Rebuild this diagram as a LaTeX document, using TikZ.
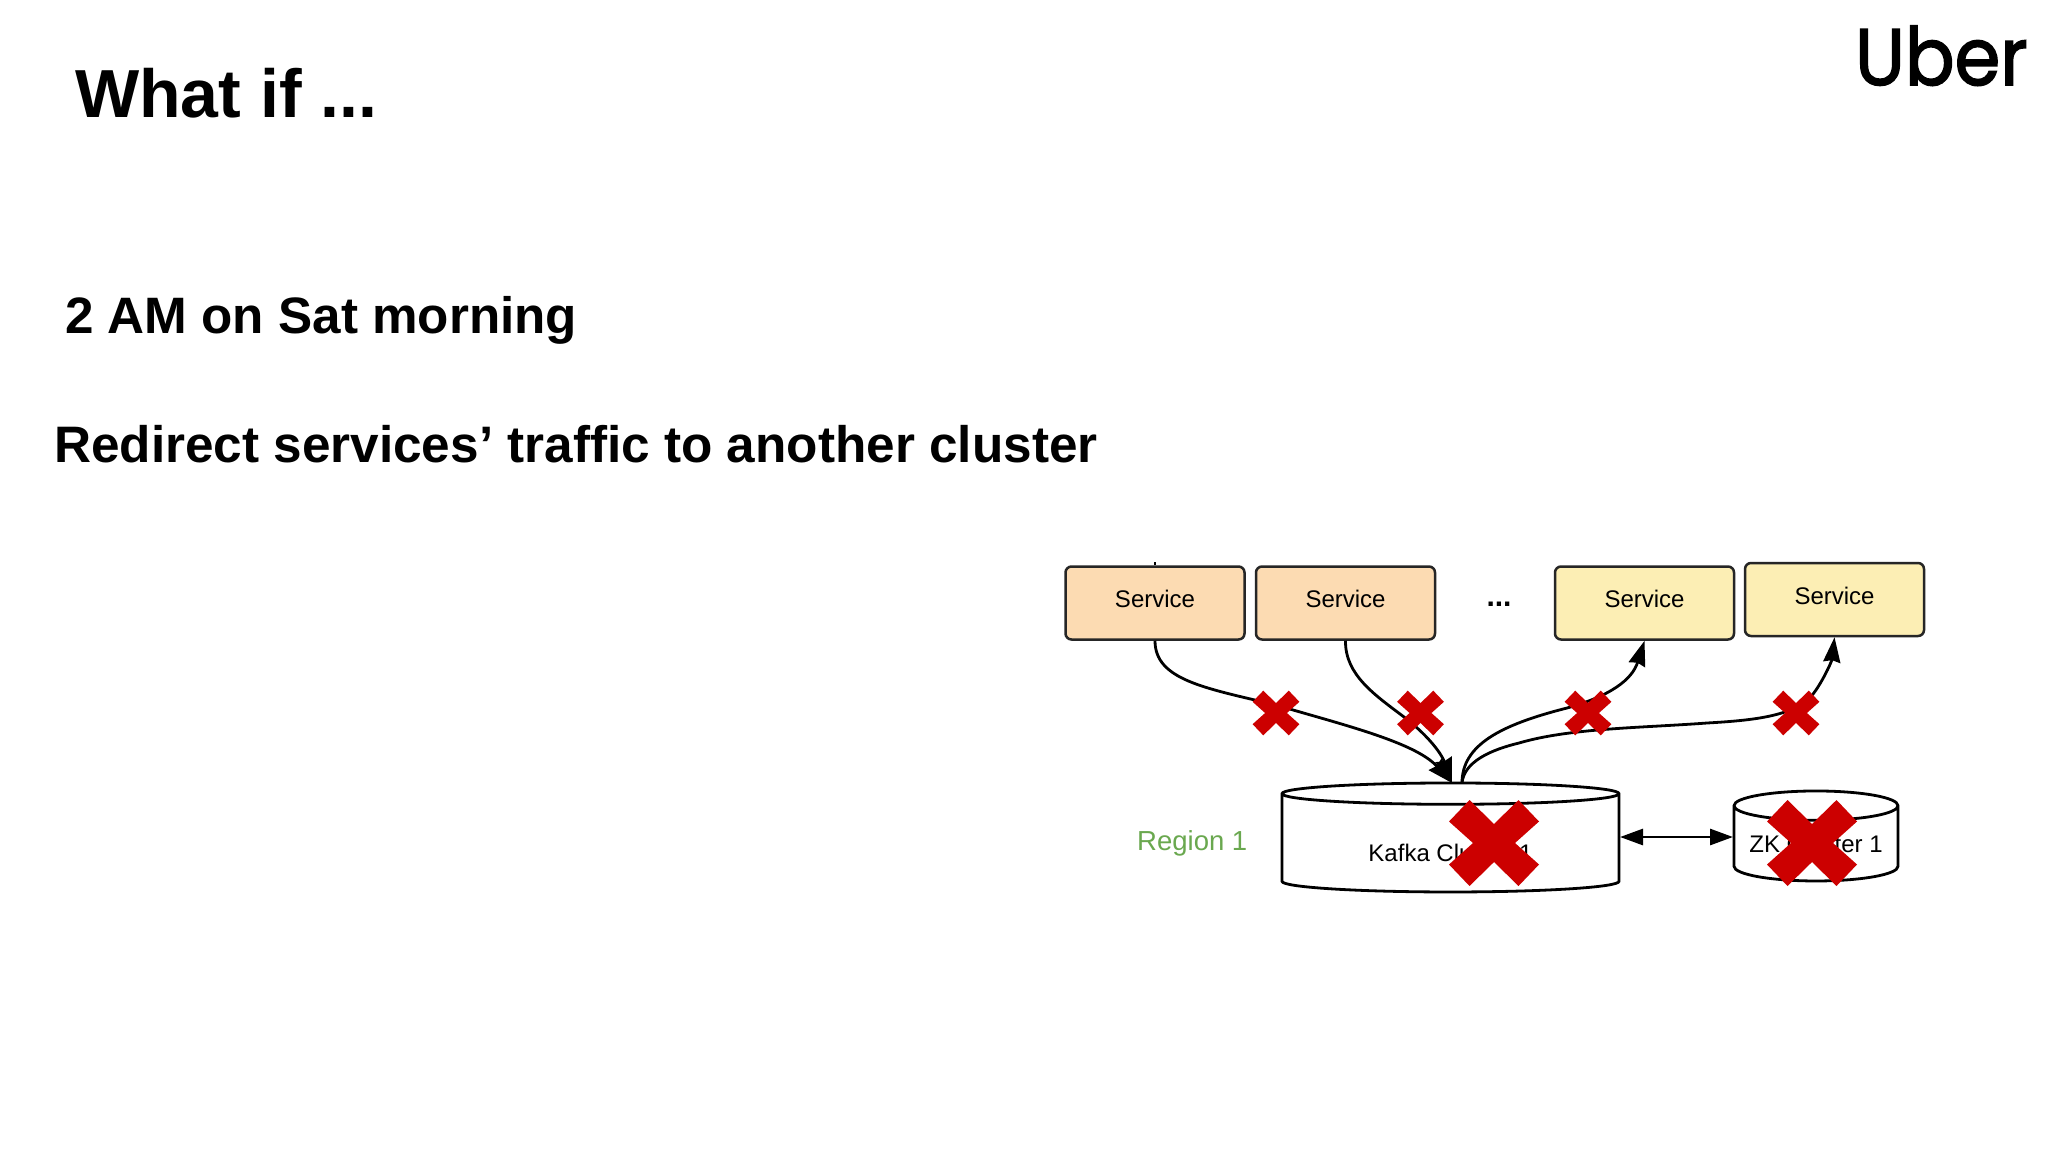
\documentclass[tikz,border=0pt]{standalone}
\usepackage{fontspec}
\setmainfont{Liberation Sans}
\newfontfamily\logofont{Poppins}[FakeBold=2]
\usetikzlibrary{arrows.meta,shapes.geometric}
\definecolor{svcorange}{HTML}{FCDBB2}
\definecolor{svcyellow}{HTML}{FCEEB4}
\definecolor{crossred}{HTML}{CC0000}
\definecolor{regiongreen}{HTML}{6AA84F}
\newcommand{\fs}[1]{\fontsize{#1}{#1}\selectfont}
\tikzset{
  title/.style={anchor=base west,inner sep=0,font=\bfseries},
  svc/.style={draw=black!85,line width=2.5pt,rounded corners=6pt,minimum width=179pt,minimum height=73pt,inner sep=0,text depth=8pt,font=\fs{24}},
  store/.style={draw=black,fill=white,line width=2.8pt,cylinder,shape border rotate=90,inner sep=0},
  to/.style={-{Stealth[length=25pt,width=17pt,inset=2pt]},line width=2.8pt},
  both/.style={{Stealth[length=23pt,width=16pt,inset=0pt]}-{Stealth[length=23pt,width=16pt,inset=0pt]},line width=2.8pt},
  redx/.pic={\fill[crossred] (-24.5,-43) -- (0,-19) -- (24.5,-43) -- (45,-21.5) -- (21,0) -- (45,21.5)
     -- (24.5,43) -- (0,19) -- (-24.5,43) -- (-45,21.5) -- (-21,0) -- (-45,-21.5) -- cycle;}
}
\begin{document}
\begin{tikzpicture}[x=1pt,y=-1pt]
	\useasboundingbox (0,0) rectangle (2048,1152);
	\fill[white] (0,0) rectangle (2048,1152);
	% slide text
	\node (head) [title] at (75,117) {\fs{68}What if ...};
	\node (when) [title] at (65,333) {\fs{51.2}2 AM on Sat morning};
	\node (what) [title] at (54,462) {\fs{51.3}Redirect services’ traffic to another cluster};
	\node (logo) [anchor=base west,inner sep=0,xscale=.92] at (1855,85) {\logofont\fs{80}Uber};
	% services
	\node (s1) [svc,fill=svcorange] at (1155,603) {Service};
	\node (s2) [svc,fill=svcorange] at (1345.5,603) {Service};
	\node (dots) [inner sep=0,font=\bfseries\fs{30}] at (1499,604) {...};
	\node (s3) [svc,fill=svcyellow] at (1644.5,603) {Service};
	\node (s4) [svc,fill=svcyellow] at (1834.5,599.5) {Service};
	\coordinate (tick) at (1155,562);
	\draw[line width=1.5pt] (s1.north) -- (tick);
	% stores
	\node (kafka) [store,minimum width=337pt,minimum height=109pt,shape aspect=.13,text height=36pt,font=\fs{24}] at (1450.5,843.5) {Kafka Cluster 1};
	\node (zk) [store,minimum width=164pt,minimum height=90pt,shape aspect=.22,font=\fs{24}] at (1816,844) {ZK Cluster 1};
	\node (region) [anchor=base west,inner sep=0,text=regiongreen,font=\fs{27.5}] at (1137,850) {Region 1};
	\coordinate (in) at (1452,783);
	\coordinate (out) at (1462,783);
	% connectors
	\draw[to] (s1.south) .. controls (1155,680) and (1205,688) .. (1276,705) .. controls (1340,724) and (1415,742) .. (in);
	\draw[to] (s2.south) .. controls (1345,675) and (1375,695) .. (1404,717) .. controls (1430,737) and (1442,755) .. (in);
	\draw[to] (out) .. controls (1462,745) and (1500,725) .. (1567,708) .. controls (1610,696) and (1632,680) .. (s3.south);
	\draw[to] (out) .. controls (1464,762) and (1490,750) .. (1519,743) .. controls (1570,728) and (1640,728) .. (1707,723)
		.. controls (1760,720) and (1800,715) .. (1816,690) .. controls (1826,675) and (1832,660) .. (s4.south);
	\coordinate (zl) at (1620,837);
	\coordinate (zr) at (1733,837);
	\draw[both] (zl) -- (zr);
	% crosses
	\pic[scale=.52] at (1276,713) {redx};
	\pic[scale=.52] at (1420.5,713) {redx};
	\pic[scale=.52] at (1588,713) {redx};
	\pic[scale=.52] at (1796,713) {redx};
	\pic at (1494,843) {redx};
	\pic at (1812,843) {redx};
\end{tikzpicture}
\end{document}
